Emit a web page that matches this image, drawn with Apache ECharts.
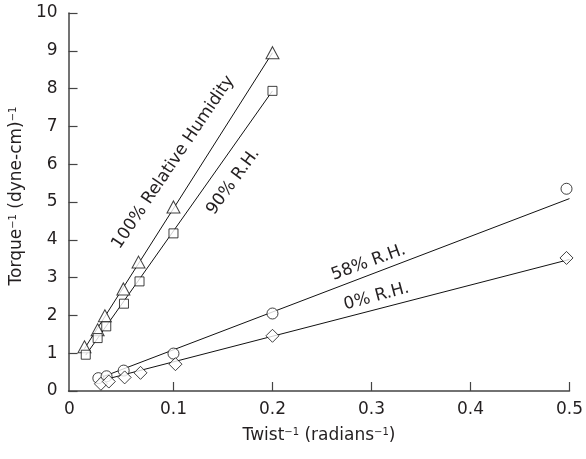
<!DOCTYPE html>
<html>
<head>
<meta charset="utf-8">
<script src="https://cdn.jsdelivr.net/npm/echarts@6/dist/echarts.min.js"></script>
<style>html,body{margin:0;padding:0;background:#fff}#c{width:586px;height:459px}</style>
</head>
<body>
<div id="c"></div>
<script>
// Data
var rh100 = [[0.0101, 1.17], [0.0234, 1.62], [0.0307, 1.99], [0.0494, 2.70], [0.0647, 3.41], [0.1, 4.87], [0.2, 8.95]];
var rh90 = [[0.0114, 0.96], [0.0234, 1.40], [0.0321, 1.71], [0.0500, 2.31], [0.0657, 2.90], [0.1, 4.17], [0.2, 7.94]];
var rh58 = [[0.0241, 0.34], [0.0324, 0.39], [0.0497, 0.54], [0.1, 0.99], [0.2, 2.05], [0.497, 5.35]];
var rh0 = [[0.0267, 0.19], [0.0347, 0.25], [0.0507, 0.36], [0.0667, 0.48], [0.102, 0.71], [0.2, 1.46], [0.497, 3.52]];
// Fitted straight lines (end points)
var fit100 = [[0.0101, 1.12], [0.2, 8.95]];
var fit90 = [[0.0114, 0.95], [0.2, 7.94]];
var fit58 = [[0.024, 0.33], [0.5, 5.09]];
var fit0 = [[0.026, 0.27], [0.5, 3.48]];
var xTicks = [0, 0.1, 0.2, 0.3, 0.4, 0.5];
var xTickMarks = [0.1, 0.2, 0.3, 0.4, 0.5];
// Line labels: text, anchor (data coords), rotation (deg)
var labelTexts = ['100% Relative Humidity', '90% R.H.', '58% R.H.', '0% R.H.'];
var labelAnchors = [[0.0998, 6.05], [0.1604, 5.54], [0.297, 3.40], [0.305, 2.50]];
var labelAngles = [56, 54, 20, 15];

var FONT = 'DejaVu Sans, sans-serif';
var FS = 17;
var TXT = '#231f20';
var AX = '#444';
var chart = echarts.init(document.getElementById('c'));

function lineSeries(d) {
  return {type: 'line', data: d, symbol: 'none', silent: true, z: 2,
    lineStyle: {color: '#111', width: 1}};
}
function markSeries(d, sym, size) {
  return {type: 'scatter', data: d, symbol: sym, symbolSize: size, z: 5,
    itemStyle: {color: '#fff', borderColor: '#111', borderWidth: 1}};
}

chart.setOption({
  animation: false,
  backgroundColor: '#fff',
  grid: {left: 67, right: 13, top: 13, bottom: 68},
  xAxis: {
    type: 'value', min: -0.006, max: 0.5,
    name: 'Twist{sup|−1} (radians{sup|−1})',
    nameLocation: 'middle', nameGap: 36,
    nameTextStyle: {fontFamily: FONT, fontSize: FS, color: TXT,
      rich: {sup: {fontSize: 10, verticalAlign: 'top', fontFamily: FONT, color: TXT}}},
    axisLine: {show: true, onZero: false, lineStyle: {color: AX, width: 1.5}},
    axisTick: {show: true, inside: true, length: 9, customValues: xTickMarks, lineStyle: {color: AX, width: 1.2}},
    axisLabel: {customValues: xTicks, margin: 10, fontFamily: FONT, fontSize: FS, color: TXT,
      formatter: function (v) { return v === 0 ? '{z|0}' : String(v); },
      rich: {z: {padding: [0, 10, 0, 0], fontFamily: FONT, fontSize: FS, color: TXT}}},
    splitLine: {show: false}
  },
  yAxis: {
    type: 'value', min: 0, max: 10, interval: 1,
    name: 'Torque{sup|−1} (dyne-cm){sup|−1}',
    nameLocation: 'middle', nameGap: 40, nameRotate: 90,
    nameTextStyle: {fontFamily: FONT, fontSize: FS, color: TXT, padding: [0, 0, 0, 12],
      rich: {sup: {fontSize: 10, verticalAlign: 'top', fontFamily: FONT, color: TXT}}},
    axisLine: {show: true, onZero: false, lineStyle: {color: AX, width: 1.5}},
    axisTick: {show: true, inside: true, length: 9, lineStyle: {color: AX, width: 1.2}},
    axisLabel: {margin: 11, fontFamily: FONT, fontSize: FS, color: TXT},
    splitLine: {show: false}
  },
  series: [
    lineSeries(fit100), lineSeries(fit90), lineSeries(fit58), lineSeries(fit0),
    markSeries(rh100, 'triangle', [13, 12]),
    markSeries(rh90, 'rect', 9),
    markSeries(rh58, 'circle', 11),
    markSeries(rh0, 'diamond', [13, 13])
  ]
});

var g = [];
for (var i = 0; i < labelTexts.length; i++) {
  var p = chart.convertToPixel({gridIndex: 0}, labelAnchors[i]);
  g.push({type: 'text', x: p[0], y: p[1], rotation: labelAngles[i] * Math.PI / 180,
    style: {text: labelTexts[i], fontFamily: FONT, fontSize: FS, fill: TXT, align: 'center', verticalAlign: 'middle'},
    z: 10});
}
chart.setOption({graphic: g});
</script>
</body>
</html>
